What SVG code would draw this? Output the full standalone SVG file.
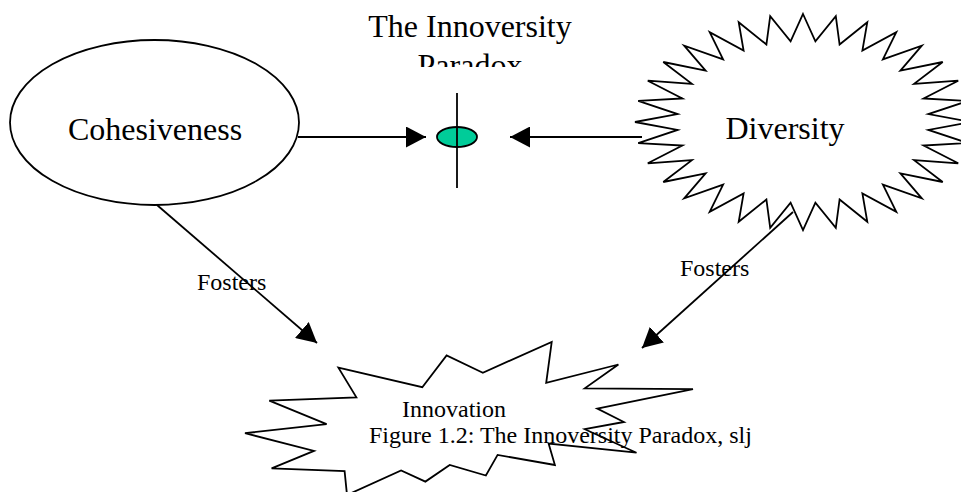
<svg xmlns="http://www.w3.org/2000/svg" width="961" height="492" viewBox="0 0 961 492">
<style>
text{font-family:"Liberation Serif","Times New Roman",serif;fill:#000}
.big{font-size:32px}
.small{font-size:24px}
.shape{fill:#fff;stroke:#000;stroke-width:1.8;stroke-linejoin:miter}
.conn{stroke:#000;stroke-width:1.8;fill:none}
</style>
<defs>
<marker id="ah" markerUnits="userSpaceOnUse" markerWidth="20" markerHeight="21" refX="20" refY="10.5" orient="auto" viewBox="0 0 20 21">
<path d="M0,0 L20,10.5 L0,21 Z" fill="#000"/>
</marker>
<clipPath id="titleclip"><rect x="0" y="0" width="961" height="67"/></clipPath>
</defs>
<rect width="961" height="492" fill="#fff"/>

<g id="cohesiveness">
<ellipse class="shape" cx="154.5" cy="122.5" rx="144.5" ry="82.5"/>
<text class="big" x="155" y="140" text-anchor="middle">Cohesiveness</text>
</g>

<g id="diversity">
<polygon class="shape" points="803,14 815.4,41.4 835.8,16.1 839.6,44.5 867.3,22.2 862.4,50.6 896.3,32.2 882.9,59.4 921.8,45.6 900.4,70.6 942.7,62 914.1,83.8 958.2,80.7 923.6,98.5 967.8,100.9 928.4,114.1 971,122 928.4,129.9 967.8,143.1 923.6,145.5 958.2,163.3 914.1,160.2 942.7,182 900.4,173.4 921.8,198.4 882.9,184.6 896.3,211.8 862.4,193.4 867.3,221.8 839.6,199.5 835.8,227.9 815.4,202.6 803,230 790.6,202.6 770.2,227.9 766.4,199.5 738.7,221.8 743.6,193.4 709.7,211.8 723.1,184.6 684.2,198.4 705.6,173.4 663.3,182 691.9,160.2 647.8,163.3 682.4,145.5 638.2,143.1 677.6,129.9 635,122 677.6,114.1 638.2,100.9 682.4,98.5 647.8,80.7 691.9,83.8 663.3,62 705.6,70.6 684.2,45.6 723.1,59.4 709.7,32.2 743.6,50.6 738.7,22.2 766.4,44.5 770.2,16.1 790.6,41.4"/>
<text class="big" x="785" y="139" text-anchor="middle">Diversity</text>
</g>

<g id="innovation">
<polygon class="shape" points="482.8,372.7 446.6,355.4 422.3,387.2 338.4,367.7 356.4,397.4 269.3,400.6 326.6,424.1 245,433.2 314,450.9 271.6,468.3 344.6,471.2 347,495 401.1,470.4 425.4,481.6 449.7,465 485.9,475.5 497.6,454.9 554.9,465 548.6,443.6 636.5,452.7 584.8,429.2 623.9,422 597.3,408.6 693,389.1 584.8,388.3 618.4,364.5 546.2,382.9 551.7,342"/>
<text class="small" x="402" y="417">Innovation</text>
</g>

<g id="paradox">
<g clip-path="url(#titleclip)">
<text class="big" x="470" y="37" text-anchor="middle">The Innoversity</text>
<text class="big" x="470" y="76" text-anchor="middle">Paradox</text>
</g>
<ellipse cx="457" cy="137" rx="20" ry="10" fill="#00CC99" stroke="#000" stroke-width="1.8"/>
<line x1="457" y1="93" x2="457" y2="188" stroke="#000" stroke-width="1.8"/>
</g>

<g id="connectors">
<line class="conn" x1="298" y1="137" x2="426" y2="137" marker-end="url(#ah)"/>
<line class="conn" x1="642" y1="137" x2="510" y2="137" marker-end="url(#ah)"/>
<line class="conn" x1="157" y1="205" x2="317" y2="343" marker-end="url(#ah)"/>
<line class="conn" x1="793" y1="212" x2="642" y2="348" marker-end="url(#ah)"/>
</g>

<g id="labels">
<text class="small" x="197" y="290">Fosters</text>
<text class="small" x="680" y="276">Fosters</text>
<text class="small" x="369" y="443">Figure 1.2: The Innoversity Paradox, slj</text>
</g>
</svg>
